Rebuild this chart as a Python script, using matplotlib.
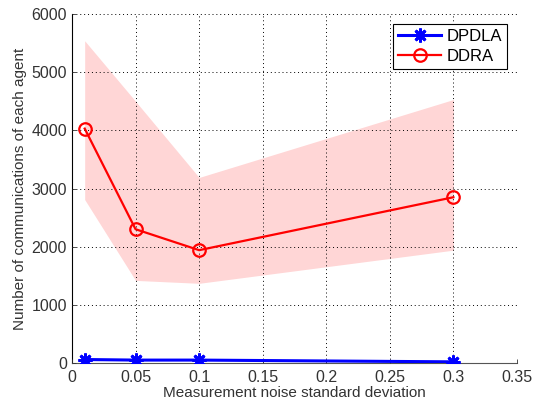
import matplotlib
matplotlib.use("Agg")
import matplotlib.pyplot as plt

noise_std = [0.01, 0.05, 0.1, 0.3]
dpdla_mean = [60, 50, 50, 20]
ddra_mean = [4030, 2300, 1940, 2850]
ddra_upper = [5540, 4500, 3190, 4530]
ddra_lower = [2810, 1420, 1370, 1940]

x_ticks = [0, 0.05, 0.1, 0.15, 0.2, 0.25, 0.3, 0.35]
x_ticklabels = ["0", "0.05", "0.1", "0.15", "0.2", "0.25", "0.3", "0.35"]
y_ticks = [0, 1000, 2000, 3000, 4000, 5000, 6000]

plt.rcParams['font.family'] = ['Liberation Sans', 'DejaVu Sans']

fig = plt.figure(figsize=(5.34, 4.05), dpi=100)
ax = fig.add_axes([0.1348, 0.1037, 0.8333, 0.8617])

ax.fill_between(noise_std, ddra_lower, ddra_upper, color='#ffd6d6', linewidth=0, zorder=1)
ax.plot(noise_std, dpdla_mean, color='#0000ff', linewidth=2.2, marker=(8, 2, 0),
        markersize=10, markeredgewidth=2.0, label='DPDLA', zorder=3)
ax.plot(noise_std, ddra_mean, color='#ff0000', linewidth=1.6, marker='o',
        markersize=9, markerfacecolor='none', markeredgewidth=1.6, label='DDRA', zorder=3)

ax.set_xlim(0, 0.35)
ax.set_ylim(0, 6000)
ax.set_xticks(x_ticks)
ax.set_xticklabels(x_ticklabels)
ax.set_yticks(y_ticks)
ax.grid(True, color='black', linestyle=(0, (1, 3)), linewidth=0.7)
ax.set_axisbelow(False)
for s in ['top', 'right']:
    ax.spines[s].set_visible(False)
ax.spines['left'].set_color('black')
ax.spines['bottom'].set_color('#555555')
ax.tick_params(direction='in', length=3, labelsize=11.5, colors='#333333', width=0.6)
ax.tick_params(axis='x', pad=5)

ax.set_xlabel('Measurement noise standard deviation', fontsize=11, color='#333333', labelpad=1)
ax.set_ylabel('Number of communications of each agent', fontsize=11, color='#333333', labelpad=3)

leg = ax.legend(loc='upper right', fontsize=12, frameon=True, fancybox=False,
                edgecolor='black', framealpha=1, handlelength=2.6, handletextpad=0.3,
                borderaxespad=0.6, borderpad=0.3, labelspacing=0.3)
leg.get_frame().set_linewidth(0.8)

fig.savefig('out.png', dpi=100)
